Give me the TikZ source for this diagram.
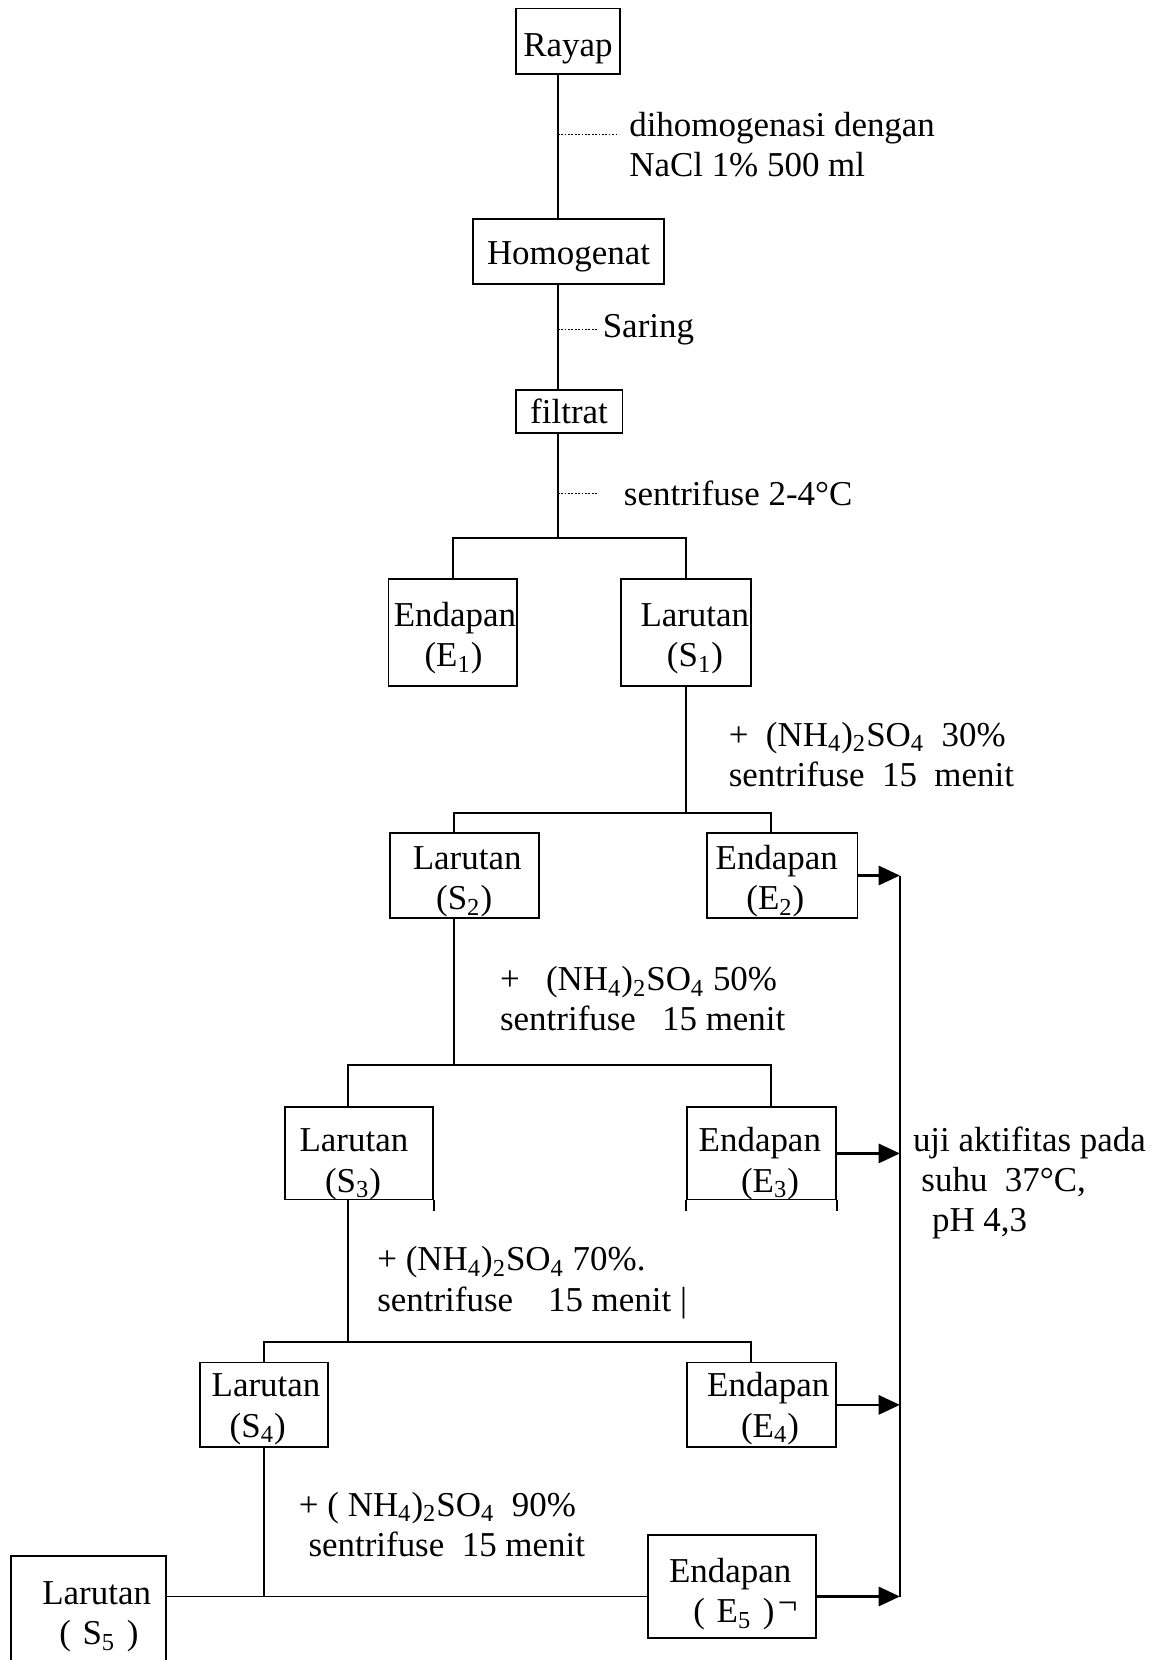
\documentclass[tikz,border=0pt]{standalone}
\usepackage{fontspec}
\setmainfont{Liberation Serif}
\usetikzlibrary{arrows.meta}
\newcommand{\subs}[1]{\textsubscript{#1}}
\newcommand{\dn}[1]{\rule{0pt}{\dimexpr12pt+#1\relax}}
\begin{document}
\begin{tikzpicture}[x=0.5pt,y=-0.5pt,
  box/.style 2 args={draw, line width=0.9pt, text width={#1*0.5pt}, minimum height={#2*0.5pt},
    inner xsep=0pt, inner ysep=0pt, align=left, font=\fontsize{16.5}{19}\selectfont},
  lbl/.style={anchor=west, align=left, inner sep=0pt, font=\fontsize{16.5}{19}\selectfont},
  ln/.style={line width=0.9pt},
  dots/.style={line width=0.6pt, dash pattern=on 0.8pt off 0.8pt},
  arr/.style={line width=1.3pt, -{Triangle[length=10pt,width=9pt]}}]
\useasboundingbox (0,0) rectangle (1102,1568);
\clip (0,0) rectangle (1102,1568);
\fill[white] (0,0) rectangle (1102,1568);

% boxes
\node[box={99}{62}, align=center] (rayap) at (536.5,39) {\dn{6pt}Rayap};
\node[box={180}{61}, align=center] (homog) at (537,237.5) {\dn{4pt}Homogenat};
\node[box={101}{41}, align=center] (filtrat) at (537.5,388.5) {filtrat};
\node[box={121}{101}] (e1) at (427.5,597.5) {\dn{5pt}\hspace*{2.5pt}Endapan\\\hspace*{17pt}(E\subs{1})};
\node[box={122}{101}] (s1) at (648,597.5) {\dn{5pt}\hspace*{9pt}Larutan\\\hspace*{21.5pt}(S\subs{1})};
\node[box={141}{80}] (s2) at (438.5,827) {\dn{5pt}\hspace*{11pt}Larutan\\\hspace*{22pt}(S\subs{2})};
\node[box={142}{80}] (e2) at (739,827) {\dn{5pt}\hspace*{4pt}Endapan\\\hspace*{18.5pt}(E\subs{2})};
\node[box={140}{87}] (s3) at (339,1089.5) {\dn{9pt}\hspace*{7pt}Larutan\\\hspace*{19pt}(S\subs{3})};
\node[box={141}{87}] (e3) at (719.5,1089.5) {\dn{9pt}\hspace*{5.5pt}Endapan\\\hspace*{25.5pt}(E\subs{3})};
\node[box={121}{80}] (s4) at (249.5,1327) {\dn{3pt}\hspace*{5.5pt}Larutan\\\hspace*{14pt}(S\subs{4})};
\node[box={141}{80}] (e4) at (719.5,1327) {\dn{3pt}\hspace*{9.5pt}Endapan\\\hspace*{25.5pt}(E\subs{4})};
\node[box={159}{97}] (e5) at (691.5,1498.5) {\dn{7pt}\hspace*{10pt}Endapan\\\hspace*{21.5pt}( E\subs{5} )\kern1.5pt\raisebox{0.25em}{¬}};
\node[box={147}{104}] (s5) at (83.5,1522) {\dn{4pt}\hspace*{15pt}Larutan\\\hspace*{23pt}( S\subs{5} )};

% odd side extensions below S3 / E3
\draw[ln] (s3.south east) -- ++(0,10);
\draw[ln] (e3.south west) -- ++(0,10);
\draw[ln] (e3.south east) -- ++(0,10);

% labels
\node[lbl] (t1) at (594,136.5) {dihomogenasi dengan\\NaCl 1\% 500 ml};
\node[lbl] (t2) at (569,311) {Saring};
\node[lbl] (t3) at (589,466) {sentrifuse 2-4°C};
\node[lbl] (t4) at (688,712.5) {+\ \ (NH\subs{4})\subs{2}SO\subs{4}\ \ 30\%\\sentrifuse\ \ 15\ \ menit};
\node[lbl] (t5) at (472,943.5) {+\ \ \ (NH\subs{4})\subs{2}SO\subs{4} 50\%\\sentrifuse\ \ \ 15 menit};
\node[lbl] (t6) at (356,1211.5) {+ (NH\subs{4})\subs{2}SO\subs{4} 70\%.\\sentrifuse\ \ \ \ 15 menit |};
\node[lbl] (t7) at (282,1440) {+ ( NH\subs{4})\subs{2}SO\subs{4}\ \ 90\%\\\hspace*{4.5pt}sentrifuse\ \ 15 menit};
\node[lbl] (t8) at (862,1117.5) {uji aktifitas pada\\\hspace*{4pt}suhu\ \ 37°C,\\\hspace*{9pt}pH 4,3};

% junction coordinates
\coordinate (trunk) at (527,0);
\coordinate (d1) at (527,127);
\coordinate (d2) at (527,311);
\coordinate (d3) at (527,466);
\coordinate (b1) at (527,508);
\coordinate (b2l) at (429,768);
\coordinate (b2r) at (728,768);
\coordinate (b3l) at (329,1006);
\coordinate (b3r) at (728,1006);
\coordinate (b4l) at (249,1268);
\coordinate (b4r) at (709,1268);
\coordinate (j5) at (249,1508);
\coordinate (v2) at (850,827);
\coordinate (v3) at (850,1089.5);
\coordinate (v4) at (850,1327);
\coordinate (v5) at (850,1508);

% main trunk
\draw[ln] (rayap.south -| trunk) -- (homog.north -| trunk);
\draw[ln] (homog.south -| trunk) -- (filtrat.north -| trunk);
\draw[ln] (filtrat.south -| trunk) -- (b1);
\draw[ln] (e1.north) |- (b1) -| (s1.north);

% dotted leaders
\draw[dots] (d1) -- ([xshift=-5pt]t1.west |- d1);
\draw[dots] (d2) -- ([xshift=-2pt]t2.west |- d2);
\draw[dots] (d3) -- ([xshift=-12pt]t3.west |- d3);

% level 2
\draw[ln] (s1.south) -- (s1.south |- b2l);
\draw[ln] (s2.north -| b2l) -- (b2l) -- (b2r) -- (e2.north -| b2r);
% level 3
\draw[ln] (s2.south -| b2l) -- (b2l |- b3l);
\draw[ln] (s3.north -| b3l) -- (b3l) -- (b3r) -- (e3.north -| b3r);
% level 4
\draw[ln] (s3.south -| b3l) -- (b3l |- b4l);
\draw[ln] (s4.north -| b4l) -- (b4l) -- (b4r) -- (e4.north -| b4r);
% level 5
\draw[ln] (s4.south -| j5) -- (j5);
\draw[ln] (s5.east |- j5) -- (e5.west |- j5);

% collector line and arrows
\draw[ln] (v2) -- (v5);
\draw[arr] (e2.east) -- (v2);
\draw[arr] (e3.east) -- (v3);
\draw[arr] (e4.east) -- (v4);
\draw[arr] (e5.east |- v5) -- (v5);
\end{tikzpicture}
\end{document}
